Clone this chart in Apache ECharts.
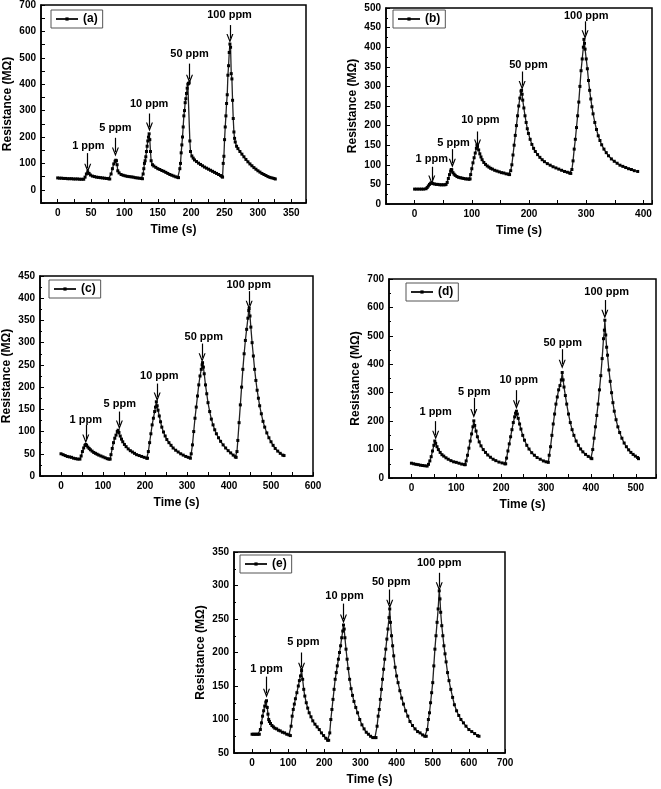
<!DOCTYPE html>
<html><head><meta charset="utf-8">
<script src="https://cdn.jsdelivr.net/npm/echarts@6/dist/echarts.min.js"></script>
<style>html,body{margin:0;padding:0;background:#fff}#c{width:661px;height:789px}</style>
</head><body><div id="c"></div>
<script>
// ---------- data ----------
const timeA = [0,3,6,9,12,15,18,21,24,27,30,33,36,39,41,43,45,47,49,52,55,58,61,64,67,70,73,76,78,80,82,84,86,87,88,89,90,92,95,98,101,104,107,110,113,116,119,122,125,127,128,129,130,131,132,133,134,135,136,137,138,139,140,142,144,147,150,153,156,159,162,165,168,171,174,177,180,181,183,184,185,186,187,188,189,190,191,192,193,194,195,196,197,198,199,201,203,205,208,211,214,217,220,223,226,229,232,235,238,241,244,246,247,248,249,250,251,252,253,254,255,256,257,258,259,260,261,262,263,264,265,266,268,270,273,276,279,282,285,288,291,294,297,300,303,306,309,312,315,318,321,324,326];
const resA = [45,44,44,43,43,42,42,42,41,41,41,40,40,40,48,60,68,62,56,52,50,48,47,46,45,44,43,42,41,60,80,98,108,112,110,95,72,64,58,55,53,51,50,49,48,46,45,44,43,42,60,80,100,110,125,145,165,185,200,212,190,145,110,95,90,85,80,77,73,70,66,62,58,55,52,49,47,46,80,100,140,170,200,238,280,300,330,345,365,385,400,403,405,185,145,128,120,113,107,101,96,91,86,82,78,74,70,66,62,58,54,50,48,100,127,190,238,280,327,360,434,470,520,552,540,440,420,339,270,219,195,181,165,156,145,135,125,115,106,98,91,84,78,72,67,62,58,54,50,47,45,43,41];

const timeB = [0,4,8,12,16,20,22,24,26,28,30,32,35,38,41,44,47,50,53,55,57,59,61,63,64,65,67,69,71,74,77,80,83,86,89,92,95,97,98,100,102,104,106,108,109,110,112,114,116,118,121,124,127,130,133,136,140,144,148,152,156,160,164,166,168,170,172,174,176,178,180,182,184,186,187,188,189,191,193,195,197,199,202,205,208,211,215,219,223,227,232,237,242,247,252,257,262,267,271,273,275,277,279,281,283,285,287,289,291,293,295,296,297,298,300,302,304,306,308,310,312,315,318,321,324,327,331,335,339,344,349,354,359,364,369,374,379,384,390];
const resB = [38,38,38,38,38,39,42,46,50,53,54,52,51,50,50,49,49,49,49,50,55,65,75,84,88,87,80,76,73,70,68,67,66,65,64,64,63,64,75,90,105,118,130,142,150,147,138,128,120,113,106,101,97,94,91,89,86,84,82,80,79,77,76,75,85,100,125,150,175,200,225,250,270,288,290,280,265,245,225,208,192,180,165,152,142,134,126,119,113,108,103,99,95,92,89,86,83,81,79,78,88,110,140,165,195,225,260,300,340,370,400,420,410,395,370,345,315,290,268,248,230,208,190,174,162,151,140,131,123,115,109,104,99,96,93,90,88,85,83];

const timeC = [0,5,10,15,20,25,30,35,40,45,48,51,54,57,59,61,64,67,70,74,78,82,86,90,95,100,105,110,114,117,119,122,125,128,131,134,136,138,141,144,147,151,155,160,165,170,175,180,186,192,198,204,206,208,211,214,217,220,223,225,227,229,231,234,237,240,244,248,252,257,262,267,273,279,285,291,297,303,308,310,313,316,319,322,325,328,331,334,336,337,339,341,344,347,350,354,358,362,366,370,375,380,386,392,398,404,410,415,417,419,421,424,427,430,433,436,439,442,445,447,448,450,452,455,458,461,464,467,470,473,477,481,485,490,495,500,505,510,516,522,528,531];
const resC = [50,48,46,44,43,42,40,39,38,38,45,55,63,69,71,69,65,62,59,56,53,51,49,47,45,43,41,39,38,38,48,62,75,85,92,100,103,98,90,83,77,71,66,61,57,54,51,48,46,44,42,40,40,55,75,95,115,130,145,155,167,158,148,135,122,110,99,90,82,75,69,63,58,54,50,47,44,42,40,50,70,100,130,155,180,205,225,240,250,255,245,230,205,185,165,145,128,115,104,95,86,78,70,63,57,52,47,43,42,55,80,120,160,200,240,275,305,330,355,372,377,360,335,300,270,240,215,193,175,158,140,123,110,97,86,77,69,62,56,51,47,46];

const timeD = [0,5,10,15,20,25,30,35,38,41,44,47,50,52,54,57,60,64,68,72,77,82,88,94,100,106,112,118,120,122,125,128,131,134,137,139,141,144,147,151,155,160,165,170,176,182,188,195,202,208,210,212,215,218,221,224,227,230,232,234,236,238,241,244,248,252,257,262,268,274,280,287,294,300,305,307,310,313,316,319,322,325,328,331,334,336,338,340,343,346,350,354,358,362,367,372,377,382,388,394,400,402,404,407,410,413,416,419,422,425,428,430,431,433,435,437,440,443,446,449,452,456,460,464,469,474,479,484,489,494,499,504,506];
const resD = [52,50,48,47,45,44,43,42,48,60,75,95,115,130,122,110,100,90,82,77,71,66,61,57,55,52,49,47,47,60,80,105,130,155,180,201,185,165,145,127,113,100,90,81,73,66,61,56,53,50,50,70,95,120,145,170,195,215,228,235,225,210,190,172,150,133,115,102,89,80,72,66,60,57,55,80,110,150,190,225,260,285,310,325,345,371,345,320,290,260,225,195,170,150,130,115,102,92,83,76,70,68,100,140,180,220,260,310,360,420,490,520,555,503,460,432,380,340,300,265,235,205,180,160,140,123,110,99,90,83,77,72,68];

const timeE = [0,4,8,12,16,20,23,26,29,32,35,38,40,42,44,46,48,51,55,59,63,68,73,78,84,90,96,102,106,108,111,114,117,120,124,128,131,134,137,140,143,146,150,154,158,163,168,174,180,186,192,198,204,209,212,215,218,221,224,227,230,233,236,239,242,245,248,251,253,255,257,260,263,266,270,274,278,282,287,292,298,304,310,316,322,328,334,340,343,346,349,352,355,358,361,364,367,370,373,376,379,381,383,386,389,392,396,400,404,409,414,419,425,431,437,444,451,458,465,472,478,482,485,488,491,494,497,500,503,506,509,512,515,518,520,522,525,528,531,534,537,541,545,550,555,560,566,572,578,585,592,600,608,616,624,628];
const resE = [78,78,78,78,78,78,85,95,105,113,120,126,128,118,108,100,97,94,91,89,87,86,84,83,81,80,78,77,76,90,105,115,123,131,140,150,158,165,173,160,145,135,125,117,110,104,98,93,89,85,80,76,72,69,69,80,100,115,130,145,160,170,180,190,200,210,222,232,241,235,222,205,190,176,160,146,136,127,118,110,100,92,86,81,78,75,73,73,73,90,105,115,130,145,160,175,190,205,220,235,252,265,245,225,210,195,178,165,155,143,132,123,113,105,97,91,86,82,80,77,75,75,85,100,110,125,140,155,180,205,225,245,265,292,280,260,240,225,210,198,186,170,158,145,133,122,113,106,100,95,90,85,82,79,76,75];

// annotation labels and positions (data units)
const ppmLabels = ['1 ppm','5 ppm','10 ppm','50 ppm','100 ppm'];
const textXA = [46,86.5,137,197.5,257.5],  textYA = [166,235,324,516,662];
const arrowXA = [45,86.5,137.5,197.5,258], arrowTopA = [139,197,289,478,624], arrowBotA = [82,143,238,419,573];
const textXB = [30,68,115,199,300],        textYB = [114,155,215,355,480];
const arrowXB = [30,66,110,188,298],       arrowTopB = [95,140,185,338,466], arrowBotB = [61,104,153,302,432];
const textXC = [59,140,234,340,447],       textYC = [127,162,225,313,430];
const arrowXC = [59,139,229,336,448],      arrowTopC = [115,145,208,298,416], arrowBotC = [83,115,178,266,384];
const textXD = [54,140,239,337,435],       textYD = [233,303,344,476,655];
const arrowXD = [54,139,234,336,431],      arrowTopD = [200,282,309,453,626], arrowBotD = [150,227,258,400,576];
const textXE = [40,142,256,385,518],       textYE = [176,216,285,305,334];
const arrowXE = [40,137,253,381,518],      arrowTopE = [164,200,273,294,319], arrowBotE = [139,178,250,272,298];

// ---------- chart ----------
const FONT = '"Liberation Sans", Arial, sans-serif';
const zip = (a, b) => a.map((v, i) => [v, b[i]]);
const chevron = 'path://M5,0 L10,9 L8.3,9 L5,3.4 L1.7,9 L0,9 Z';

const panels = [
  {name:'(a)', t:timeA, r:resA, tx:textXA, ty:textYA, ax:arrowXA, at:arrowTopA, ab:arrowBotA,
   grid:[41,5,265,198], x:[-25,372,25,50], y:[-50,700,50,100,0], legend:[51,10]},
  {name:'(b)', t:timeB, r:resB, tx:textXB, ty:textYB, ax:arrowXB, at:arrowTopB, ab:arrowBotB,
   grid:[386,8,266,196], x:[-50,415,50,100], y:[0,500,50,50,2], legend:[393,10]},
  {name:'(c)', t:timeC, r:resC, tx:textXC, ty:textYC, ax:arrowXC, at:arrowTopC, ab:arrowBotC,
   grid:[40,276,273,200], x:[-50,600,50,100], y:[0,450,50,50,2], legend:[49,280]},
  {name:'(d)', t:timeD, r:resD, tx:textXD, ty:textYD, ax:arrowXD, at:arrowTopD, ab:arrowBotD,
   grid:[389,279,267,199], x:[-50,545,50,100], y:[0,700,100,100,2], legend:[406,283]},
  {name:'(e)', t:timeE, r:resE, tx:textXE, ty:textYE, ax:arrowXE, at:arrowTopE, ab:arrowBotE,
   grid:[234,552,271,201], x:[-50,700,50,100], y:[50,350,50,50,2], legend:[240,555]}
];

const grid = [], xAxis = [], yAxis = [], series = [], legend = [];
const lblStyle = {fontFamily: FONT, fontWeight: 'bold', fontSize: 10, color: '#000'};
const nameStyle = {fontFamily: FONT, fontWeight: 'bold', fontSize: 12, color: '#000'};

panels.forEach((p, i) => {
  grid.push({left:p.grid[0], top:p.grid[1], width:p.grid[2], height:p.grid[3], show:true,
    borderColor:'#000', borderWidth:1.5, backgroundColor:'transparent', containLabel:false, outerBoundsMode:'none'});
  xAxis.push({type:'value', gridIndex:i, min:p.x[0], max:p.x[1], interval:p.x[2],
    name:'Time (s)', nameLocation:'middle', nameGap:21, nameTextStyle:nameStyle,
    axisLine:{show:true, onZero:false, lineStyle:{color:'#000', width:1.5}},
    axisTick:{show:true, inside:true, length:4, lineStyle:{color:'#000', width:1}},
    splitLine:{show:false},
    axisLabel:Object.assign({margin:5, showMinLabel:true, showMaxLabel:true,
      formatter: v => (v >= 0 && Math.abs(v % p.x[3]) < 1e-9) ? String(v) : ''}, lblStyle)});
  yAxis.push({type:'value', gridIndex:i, min:p.y[0], max:p.y[1], interval:p.y[2],
    name:'Resistance (MΩ)', nameLocation:'middle', nameRotate:90, nameGap:27, nameTextStyle:nameStyle,
    axisLine:{show:true, onZero:false, lineStyle:{color:'#000', width:1.5}},
    axisTick:{show:true, inside:true, length:4, lineStyle:{color:'#000', width:1}},
    minorTick:{show:p.y[4] > 0, splitNumber:p.y[4] || 5, length:2, lineStyle:{color:'#000', width:1}},
    splitLine:{show:false}, minorSplitLine:{show:false},
    axisLabel:Object.assign({margin:5, showMinLabel:true, showMaxLabel:true,
      formatter: v => (v >= 0 && Math.abs(v % p.y[3]) < 1e-9) ? String(v) : ''}, lblStyle)});
  series.push({type:'line', name:p.name, xAxisIndex:i, yAxisIndex:i, data:zip(p.t, p.r),
    symbol:'rect', symbolSize:3, showSymbol:true, showAllSymbol:true, animation:false,
    lineStyle:{color:'#222', width:1.3}, itemStyle:{color:'#000'},
    emphasis:{disabled:true},
    markLine:{silent:true, animation:false, symbol:['none', chevron], symbolSize:[7, 9],
      lineStyle:{color:'#000', width:1.2, type:'solid'}, label:{show:false}, emphasis:{disabled:true},
      data:p.ax.map((x, k) => [{coord:[x, p.at[k]]}, {coord:[x, p.ab[k]]}])}});
  series.push({type:'scatter', name:'lbl' + i, xAxisIndex:i, yAxisIndex:i, silent:true, animation:false,
    symbolSize:1, itemStyle:{color:'#fff', opacity:1}, z:5, emphasis:{disabled:true},
    label:{show:true, position:'inside', formatter:'{b}', fontFamily:FONT, fontWeight:'bold', fontSize:11,
      color:'#000', textBorderWidth:0, textBorderColor:'transparent', opacity:1},
    data:ppmLabels.map((l, k) => ({name:l, value:[p.tx[k], p.ty[k]]}))});
  legend.push({data:[p.name], left:p.legend[0], top:p.legend[1], selectedMode:false,
    borderColor:'#555', borderWidth:1, padding:[3,5,3,4], itemWidth:22, itemHeight:4, itemGap:4,
    textStyle:{fontFamily:FONT, fontWeight:'bold', fontSize:12, color:'#000'}});
});

const chart = echarts.init(document.getElementById('c'), null, {renderer:'canvas'});
chart.setOption({backgroundColor:'#fff', animation:false, grid, xAxis, yAxis, series, legend});
</script>
</body></html>
